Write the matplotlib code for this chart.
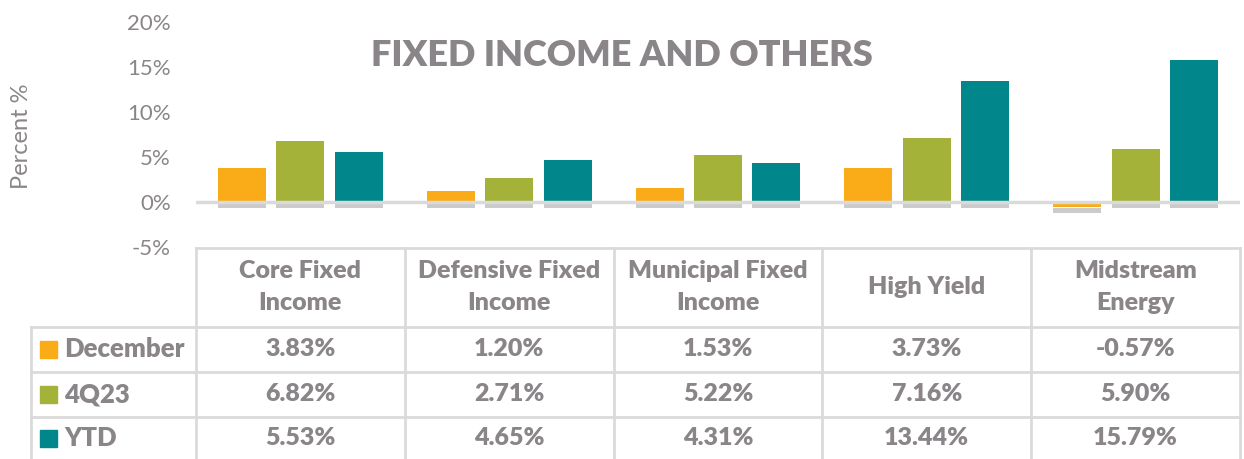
import numpy as np
import matplotlib
matplotlib.use("Agg")
import matplotlib.pyplot as plt
import matplotlib.patheffects as pe
from matplotlib.transforms import blended_transform_factory

plt.rcParams['font.family'] = ['Lato', 'DejaVu Sans']

# data
categories = ["Core Fixed\nIncome", "Defensive Fixed\nIncome", "Municipal Fixed\nIncome",
              "High Yield", "Midstream\nEnergy"]
series_names = ["December", "4Q23", "YTD"]
december = [3.83, 1.20, 1.53, 3.73, -0.57]
q4_23 = [6.82, 2.71, 5.22, 7.16, 5.90]
ytd = [5.53, 4.65, 4.31, 13.44, 15.79]
yticks = [-5, 0, 5, 10, 15, 20]

colors = ["#FAAB18", "#A4B23A", "#00868B"]
text_gray = "#8A8588"
line_gray = "#DADADA"
bold = "heavy"

W, H = 1244, 459
fig = plt.figure(figsize=(W / 100, H / 100), dpi=100)

# main plot area, in pixel units of the picture
left, right, top, bottom = 196, 1240, 22, 247
ax = fig.add_axes([left / W, 1 - bottom / H, (right - left) / W, (bottom - top) / H])

x = np.arange(len(categories))
width = 0.23
offsets = [-0.28, 0, 0.28]
shadow = [pe.SimplePatchShadow(offset=(0, -4), shadow_rgbFace="#333333", alpha=0.25), pe.Normal()]
for vals, off, c in zip([december, q4_23, ytd], offsets, colors):
    bars = ax.bar(x + off, vals, width, color=c, zorder=2)
    for b in bars:
        b.set_path_effects(shadow)

ax.axhline(0, color=line_gray, lw=2.5, zorder=3)
ax.set_xlim(-0.5, len(categories) - 0.5)
ax.set_ylim(-5, 20)
ax.set_yticks(yticks)
ax.set_yticklabels([f"{v}%" for v in yticks])
ax.tick_params(axis="y", length=0, pad=18, labelsize=16, labelcolor=text_gray)
ax.set_xticks([])
for s in ax.spines.values():
    s.set_visible(False)

# overlay in pixel coordinates for title, label and data table
ov = fig.add_axes([0, 0, 1, 1], facecolor="none")
ov.set_xlim(0, W)
ov.set_ylim(H, 0)
ov.axis("off")

ov.text(622, 56, "FIXED INCOME AND OTHERS", ha="center", va="center",
        fontsize=26, fontweight=bold, color=text_gray)
ov.text(22, 136, "Percent %", rotation=90, ha="center", va="center",
        fontsize=17, color=text_gray)

# table grid
mix = blended_transform_factory(ax.transData, ov.transData)
row_lines = [248, 327, 372, 417]
label_left = 31
lw = 2
ov.plot([left, right], [row_lines[0]] * 2, color=line_gray, lw=lw)
for y in row_lines[1:]:
    ov.plot([label_left, right], [y, y], color=line_gray, lw=lw)
ov.plot([label_left, label_left], [row_lines[1], H], color=line_gray, lw=lw)
for b in np.arange(len(categories) + 1) - 0.5:
    ov.plot([b, b], [row_lines[0], H], color=line_gray, lw=lw, transform=mix)

# header cells
for i, cat in enumerate(categories):
    ov.text(i, 287, cat, transform=mix, ha="center", va="center", fontsize=18,
            fontweight=bold, color=text_gray, linespacing=1.6)

# data rows
row_centers = [349, 394, 438]
for name, vals, c, yc in zip(series_names, [december, q4_23, ytd], colors, row_centers):
    ov.add_patch(plt.Rectangle((40, yc - 8.5), 17, 17, color=c))
    ov.text(64, yc, name, ha="left", va="center", fontsize=18.5,
            fontweight=bold, color=text_gray)
    for i, v in enumerate(vals):
        ov.text(i, yc, f"{v:.2f}%", transform=mix, ha="center", va="center",
                fontsize=18, fontweight=bold, color=text_gray)

fig.savefig("out.png", dpi=100)
